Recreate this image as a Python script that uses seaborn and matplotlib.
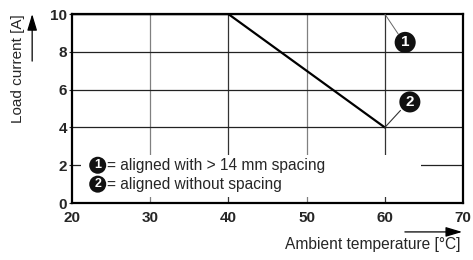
import matplotlib
matplotlib.use('Agg')
import matplotlib.pyplot as plt
import seaborn as sns
import pandas as pd
from matplotlib.patches import Rectangle

# данные кривых
temp_1 = [20, 60]
current_1 = [10, 10]
temp_2 = [20, 40, 60]
current_2 = [10, 10, 4]
x_ticks = [20, 30, 40, 50, 60, 70]
y_ticks = [0, 2, 4, 6, 8, 10]
legend_texts = ['= aligned with > 14 mm spacing', '= aligned without spacing']

sns.set_style('white')
plt.rcParams['font.family'] = ['Liberation Sans', 'DejaVu Sans']

fig = plt.figure(figsize=(4.73, 2.6), dpi=100)
ax = fig.add_axes([0.152, 0.219, 0.827, 0.727])

# сетка
for x in [30, 50]:
    ax.axvline(x, color='#808080', lw=0.9, zorder=1)
for x in [40, 60]:
    ax.axvline(x, color='#333333', lw=0.9, zorder=1)
for y in [2, 4, 6, 8]:
    ax.axhline(y, color='#222222', lw=0.9, zorder=1)

# белая подложка под легендой
ax.add_patch(Rectangle((21.1, 0.32), 43.5, 2.22, facecolor='white',
                       edgecolor='none', zorder=2))

d1 = pd.DataFrame({'t': temp_1, 'i': current_1})
d2 = pd.DataFrame({'t': temp_2, 'i': current_2})
sns.lineplot(data=d1, x='t', y='i', ax=ax, color='black', lw=1.6, zorder=3,
             estimator=None, sort=False)
sns.lineplot(data=d2, x='t', y='i', ax=ax, color='black', lw=1.6, zorder=3,
             estimator=None, sort=False)

ax.set_xlim(20, 70)
ax.set_ylim(0, 10)
ax.set_xticks(x_ticks)
ax.set_yticks(y_ticks)
ax.set_xticklabels([str(v) for v in x_ticks], fontsize=11, fontweight='bold')
ax.set_yticklabels([str(v) for v in y_ticks], fontsize=11, fontweight='bold')
ax.tick_params(axis='x', length=0, pad=6)
ax.tick_params(axis='y', length=2.5, width=0.8, pad=1, direction='out', left=True)
for s in ax.spines.values():
    s.set_color('black')
    s.set_linewidth(1.6)
ax.set_xlabel('')
ax.set_ylabel('')

# выноски 1 и 2
ax.plot([60, 61.7], [10, 8.95], color='#666666', lw=0.7, zorder=4)
ax.plot([60, 62.0], [4, 4.9], color='#333333', lw=0.8, zorder=4)
sns.scatterplot(x=[62.6, 63.2], y=[8.5, 5.35], ax=ax, s=230, color='#111111',
                edgecolor='none', zorder=5, legend=False)
for lbl, xx, yy in zip(['1', '2'], [62.6, 63.2], [8.5, 5.35]):
    ax.text(xx, yy, lbl, fontsize=11, color='white', fontweight='bold',
            ha='center', va='center', zorder=6)

# легенда
sns.scatterplot(x=[23.3, 23.3], y=[2.0, 1.0], ax=ax, s=150, color='#111111',
                edgecolor='none', zorder=5, legend=False)
for k, (yy, txt) in enumerate(zip([2.0, 1.0], legend_texts)):
    ax.text(23.3, yy, str(k + 1), fontsize=9, color='white', fontweight='bold',
            ha='center', va='center', zorder=6)
    ax.text(24.5, yy, txt, fontsize=11.2, ha='left', va='center', zorder=6)

# подписи осей со стрелками
fig.text(0.038, 0.737, 'Load current [A]', rotation=90, fontsize=11,
         ha='center', va='center')
arr = dict(arrowstyle='-|>,head_length=0.5,head_width=0.15', color='black',
           lw=0.9, mutation_scale=20, shrinkA=0, shrinkB=0)
fig.add_artist(matplotlib.patches.FancyArrowPatch(
    (0.068, 0.765), (0.068, 0.946), transform=fig.transFigure, **arr))
fig.text(0.973, 0.058, 'Ambient temperature [°C]', fontsize=11.2,
         ha='right', va='center')
fig.add_artist(matplotlib.patches.FancyArrowPatch(
    (0.856, 0.108), (0.977, 0.108), transform=fig.transFigure, **arr))

fig.savefig('out.png', dpi=100)
